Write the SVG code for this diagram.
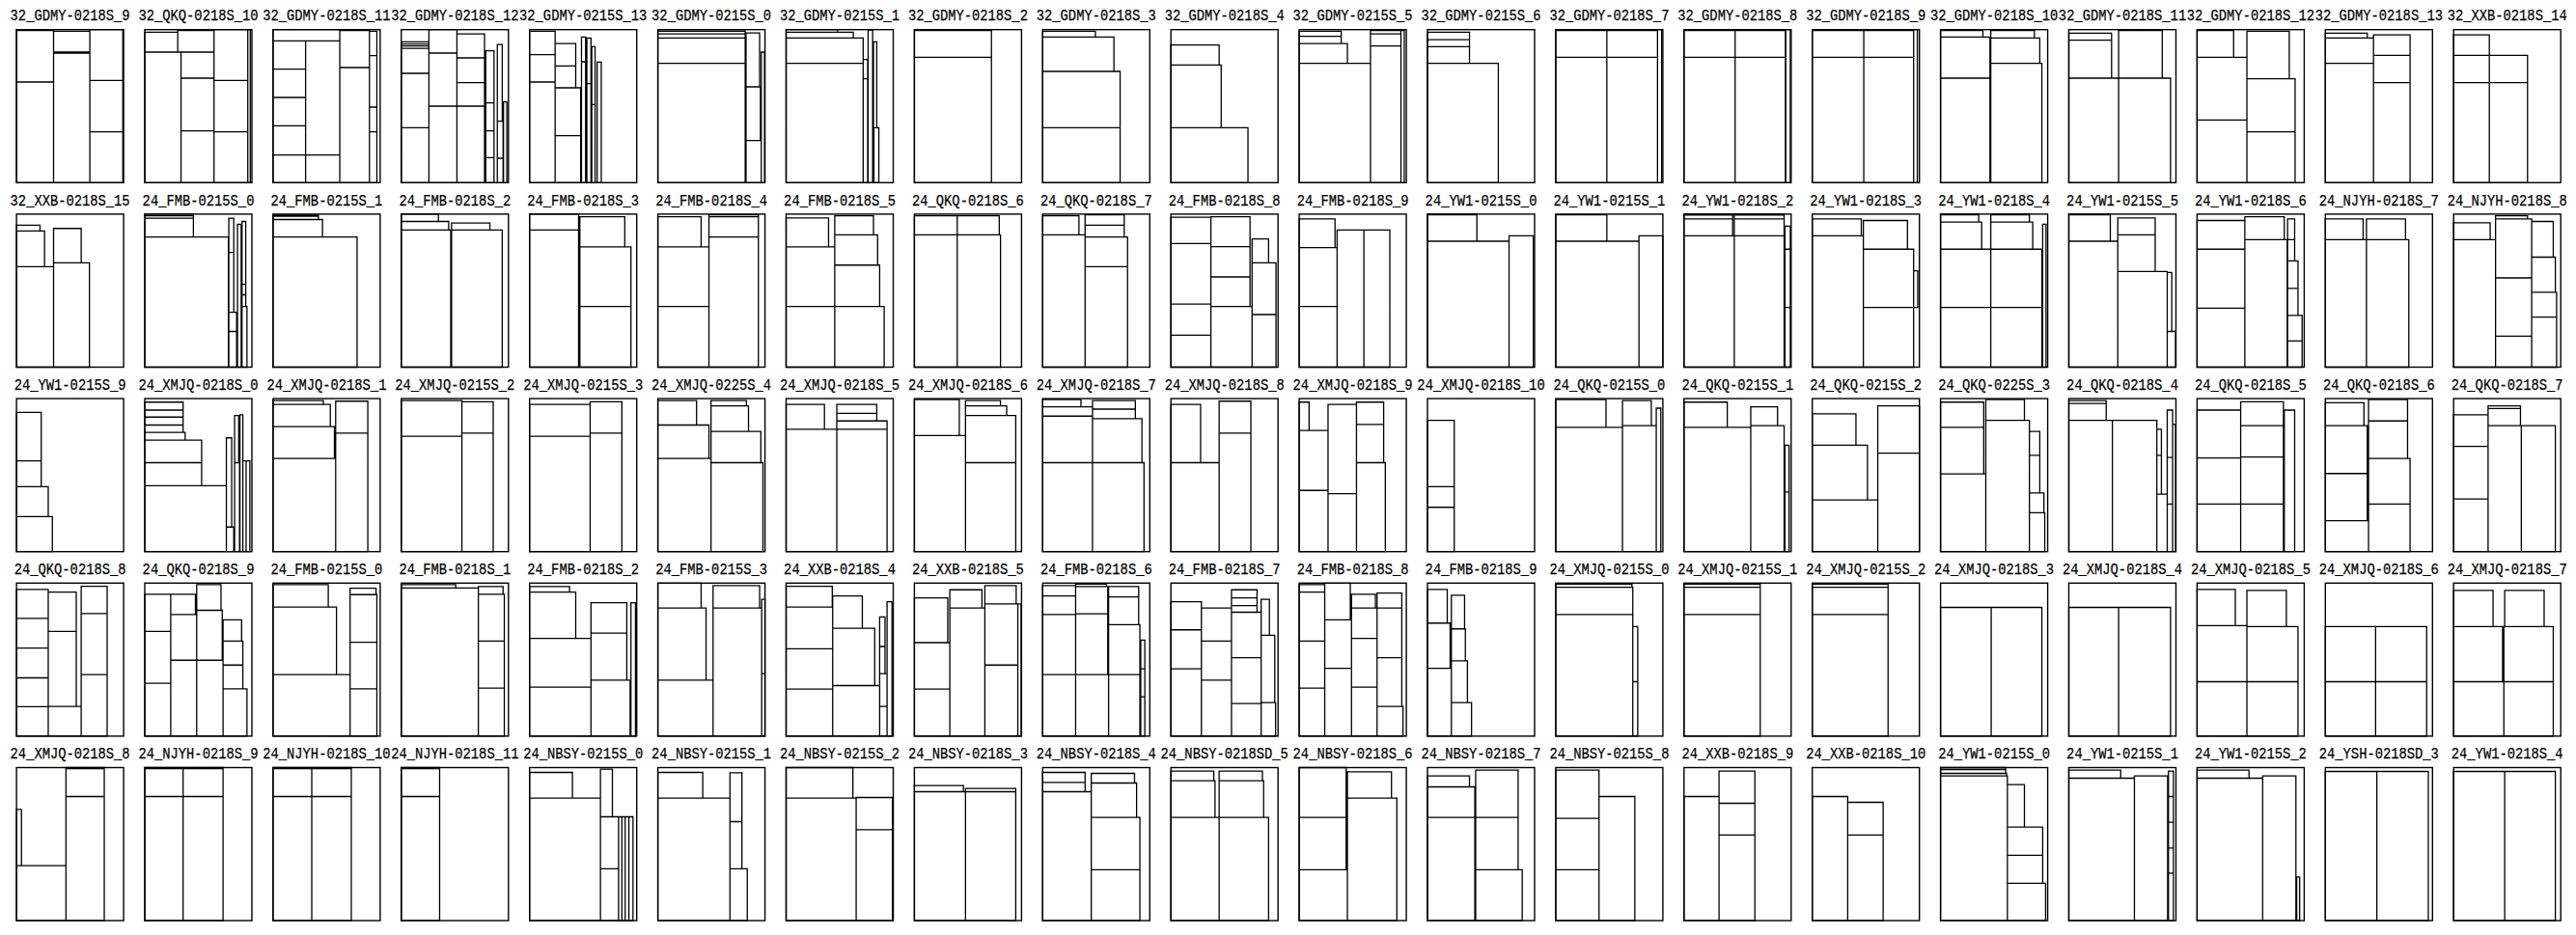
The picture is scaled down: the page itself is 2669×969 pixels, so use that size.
<svg xmlns="http://www.w3.org/2000/svg" width="2669" height="969" viewBox="0 0 2669 969">
<style>
text{font-family:"Liberation Mono","DejaVu Sans Mono",monospace;font-size:16.5px;text-anchor:middle;fill:#000;stroke:#000;stroke-width:0.25}
.b{fill:none;stroke:#000;stroke-width:1.4}
path{fill:none;stroke:#000;stroke-width:1.3;vector-effect:non-scaling-stroke}
</style>
<rect width="2669" height="969" fill="#fff"/>
<g id="row1">
<g id="p1" transform="translate(17.1 30.7)"><text x="55.5" y="-9.3" textLength="124" lengthAdjust="spacingAndGlyphs">32_GDMY-0218S_9</text><rect class="b" width="111" height="158.6"/><path transform="scale(.4269 .3332)" d="M0 0H90V3H0Z M0 3H90V163H0Z M0 163H90V476H0Z M90 5H178V70H90Z M90 73H178V476H90Z M178 0H258V158H178Z M178 158H258V318H178Z M178 318H258V476H178Z"/></g>
<g id="p2" transform="translate(150 30.7)"><text x="55.5" y="-9.3" textLength="124" lengthAdjust="spacingAndGlyphs">32_QKQ-0218S_10</text><rect class="b" width="111" height="158.6"/><path transform="scale(.4269 .3332)" d="M0 8H80V70H0Z M80 3H168V70H80Z M168 0H250V158H168Z M0 70H88V476H0Z M88 70H168V151H88Z M88 151H168V315H88Z M88 315H168V476H88Z M168 158H250V318H168Z M168 318H250V476H168Z M250 0H256V476H250Z"/></g>
<g id="p3" transform="translate(282.9 30.7)"><text x="55.5" y="-9.3" textLength="132.3" lengthAdjust="spacingAndGlyphs">32_GDMY-0218S_11</text><rect class="b" width="111" height="158.6"/><path transform="scale(.4269 .3332)" d="M0 0H162V35H0Z M0 35H79V123H0Z M0 123H79V211H0Z M0 211H79V299H0Z M0 299H79V390H0Z M0 390H79V476H0Z M79 35H162V390H79Z M79 390H162V476H79Z M162 3H234V118H162Z M162 118H234V476H162Z M234 5H252V81H234Z M234 81H252V241H234Z M234 241H252V318H234Z M234 318H252V476H234Z"/></g>
<g id="p4" transform="translate(415.8 30.7)"><text x="55.5" y="-9.3" textLength="132.3" lengthAdjust="spacingAndGlyphs">32_GDMY-0218S_12</text><rect class="b" width="111" height="158.6"/><path transform="scale(.4269 .3332)" d="M0 38H67V45H0Z M0 45H67V51H0Z M0 51H67V58H0Z M0 58H67V136H0Z M0 136H67V305H0Z M0 305H67V476H0Z M67 0H135V73H67Z M67 73H135V238H67Z M67 238H135V476H67Z M135 13H202V88H135Z M135 88H202V165H135Z M135 165H202V238H135Z M135 238H202V476H135Z M205 66H225V228H205Z M205 228H225V315H205Z M205 315H225V398H205Z M205 398H225V476H205Z M233 46H245V285H233Z M233 285H247V400H233Z M233 400H247V476H233Z M248 225H256V476H248Z"/></g>
<g id="p5" transform="translate(548.7 30.7)"><text x="55.5" y="-9.3" textLength="132.3" lengthAdjust="spacingAndGlyphs">32_GDMY-0215S_13</text><rect class="b" width="111" height="158.6"/><path transform="scale(.4269 .3332)" d="M0 5H62V78H0Z M0 78H62V163H0Z M0 163H62V476H0Z M62 43H112V113H62Z M62 113H112V181H62Z M62 181H124V330H62Z M62 330H124V476H62Z M126 23H136V100H126Z M126 100H136V476H126Z M139 26H149V168H139Z M139 168H149V476H139Z M151 53H159V233H151Z M151 233H159V476H151Z M164 101H174V476H164Z"/></g>
<g id="p6" transform="translate(681.6 30.7)"><text x="55.5" y="-9.3" textLength="124" lengthAdjust="spacingAndGlyphs">32_GDMY-0215S_0</text><rect class="b" width="111" height="158.6"/><path transform="scale(.4269 .3332)" d="M0 0H212V5H0Z M0 5H212V13H0Z M0 13H212V26H0Z M0 26H212V105H0Z M0 105H212V476H0Z M214 10H247V178H214Z M214 178H249V345H214Z M214 345H251V476H214Z M251 70H259V476H251Z"/></g>
<g id="p7" transform="translate(814.5 30.7)"><text x="55.5" y="-9.3" textLength="124" lengthAdjust="spacingAndGlyphs">32_GDMY-0215S_1</text><rect class="b" width="111" height="158.6"/><path transform="scale(.4269 .3332)" d="M0 0H125V8H0Z M0 8H163V26H0Z M0 26H187V105H0Z M0 105H187V476H0Z M187 93H198V153H187Z M187 153H198V476H187Z M199 1H210V476H199Z M212 38H220V305H212Z M213 305H225V476H213Z"/></g>
<g id="p8" transform="translate(947.4 30.7)"><text x="55.5" y="-9.3" textLength="124" lengthAdjust="spacingAndGlyphs">32_GDMY-0218S_2</text><rect class="b" width="111" height="158.6"/><path transform="scale(.4269 .3332)" d="M0 0H187V3H0Z M0 3H187V86H0Z M0 86H187V476H0Z"/></g>
<g id="p9" transform="translate(1080.3 30.7)"><text x="55.5" y="-9.3" textLength="124" lengthAdjust="spacingAndGlyphs">32_GDMY-0218S_3</text><rect class="b" width="111" height="158.6"/><path transform="scale(.4269 .3332)" d="M0 5H128V23H0Z M0 23H173V130H0Z M0 130H188V305H0Z M0 305H188V476H0Z"/></g>
<g id="p10" transform="translate(1213.2 30.7)"><text x="55.5" y="-9.3" textLength="124" lengthAdjust="spacingAndGlyphs">32_GDMY-0218S_4</text><rect class="b" width="111" height="158.6"/><path transform="scale(.4269 .3332)" d="M0 48H117V110H0Z M0 110H122V305H0Z M0 305H187V476H0Z"/></g>
<g id="p11" transform="translate(1346.1 30.7)"><text x="55.5" y="-9.3" textLength="124" lengthAdjust="spacingAndGlyphs">32_GDMY-0215S_5</text><rect class="b" width="111" height="158.6"/><path transform="scale(.4269 .3332)" d="M0 5H102V21H0Z M0 21H102V43H0Z M0 43H117V105H0Z M0 105H173V476H0Z M173 3H247V13H173Z M173 13H247V51H173Z M173 51H247V476H173Z M247 3H255V476H247Z"/></g>
<g id="p12" transform="translate(1479 30.7)"><text x="55.5" y="-9.3" textLength="124" lengthAdjust="spacingAndGlyphs">32_GDMY-0215S_6</text><rect class="b" width="111" height="158.6"/><path transform="scale(.4269 .3332)" d="M0 8H102V31H0Z M0 31H102V53H0Z M0 53H102V105H0Z M0 105H172V476H0Z"/></g>
<g id="p13" transform="translate(1611.9 30.7)"><text x="55.5" y="-9.3" textLength="124" lengthAdjust="spacingAndGlyphs">32_GDMY-0218S_7</text><rect class="b" width="111" height="158.6"/><path transform="scale(.4269 .3332)" d="M0 0H247V3H0Z M0 3H124V86H0Z M124 3H247V86H124Z M0 86H124V476H0Z M124 86H247V476H124Z M247 0H257V476H247Z"/></g>
<g id="p14" transform="translate(1744.8 30.7)"><text x="55.5" y="-9.3" textLength="124" lengthAdjust="spacingAndGlyphs">32_GDMY-0218S_8</text><rect class="b" width="111" height="158.6"/><path transform="scale(.4269 .3332)" d="M0 0H246V3H0Z M0 3H124V86H0Z M124 3H246V86H124Z M0 86H124V476H0Z M124 86H246V476H124Z M247 0H258V476H247Z"/></g>
<g id="p15" transform="translate(1877.7 30.7)"><text x="55.5" y="-9.3" textLength="124" lengthAdjust="spacingAndGlyphs">32_GDMY-0218S_9</text><rect class="b" width="111" height="158.6"/><path transform="scale(.4269 .3332)" d="M0 0H246V3H0Z M0 3H125V86H0Z M125 3H246V86H125Z M0 86H125V476H0Z M125 86H246V476H125Z M246 0H255V476H246Z"/></g>
<g id="p16" transform="translate(2010.6 30.7)"><text x="55.5" y="-9.3" textLength="132.3" lengthAdjust="spacingAndGlyphs">32_GDMY-0218S_10</text><rect class="b" width="111" height="158.6"/><path transform="scale(.4302 .3332)" d="M0 3H102V23H0Z M0 23H119V151H0Z M0 151H119V476H0Z M121 3H226V26H121Z M121 26H239V105H121Z M121 105H244V476H121Z"/></g>
<g id="p17" transform="translate(2143.5 30.7)"><text x="55.5" y="-9.3" textLength="132.3" lengthAdjust="spacingAndGlyphs">32_GDMY-0218S_11</text><rect class="b" width="111" height="158.6"/><path transform="scale(.4302 .3332)" d="M0 11H103V33H0Z M0 33H103V151H0Z M0 151H120V476H0Z M120 0H225V3H120Z M120 3H225V151H120Z M120 151H245V476H120Z"/></g>
<g id="p18" transform="translate(2276.4 30.7)"><text x="55.5" y="-9.3" textLength="132.3" lengthAdjust="spacingAndGlyphs">32_GDMY-0218S_12</text><rect class="b" width="111" height="158.6"/><path transform="scale(.4302 .3332)" d="M0 3H88V86H0Z M0 86H120V281H0Z M0 281H120V476H0Z M120 5H222V153H120Z M120 153H236V318H120Z M120 318H236V476H120Z"/></g>
<g id="p19" transform="translate(2409.3 30.7)"><text x="55.5" y="-9.3" textLength="132.3" lengthAdjust="spacingAndGlyphs">32_GDMY-0218S_13</text><rect class="b" width="111" height="158.6"/><path transform="scale(.4302 .3332)" d="M0 11H101V26H0Z M0 26H116V105H0Z M0 105H116V476H0Z M116 16H204V80H116Z M116 80H204V165H116Z M116 165H204V476H116Z"/></g>
<g id="p20" transform="translate(2542.2 30.7)"><text x="55.5" y="-9.3" textLength="124" lengthAdjust="spacingAndGlyphs">32_XXB-0218S_14</text><rect class="b" width="111" height="158.6"/><path transform="scale(.4302 .3332)" d="M0 16H86V80H0Z M0 80H86V165H0Z M0 165H86V476H0Z M86 80H178V165H86Z M86 165H178V476H86Z"/></g>
</g>
<g id="row2">
<g id="p21" transform="translate(17.1 221.9)"><text x="55.5" y="-9.3" textLength="124" lengthAdjust="spacingAndGlyphs">32_XXB-0218S_15</text><rect class="b" width="111" height="158.6"/><path transform="scale(.4269 .3304)" d="M0 35H57V53H0Z M0 53H68V165H0Z M0 165H90V480H0Z M90 45H157V153H90Z M90 153H177V480H90Z"/></g>
<g id="p22" transform="translate(150 221.9)"><text x="55.5" y="-9.3" textLength="115.8" lengthAdjust="spacingAndGlyphs">24_FMB-0215S_0</text><rect class="b" width="111" height="158.6"/><path transform="scale(.4269 .3304)" d="M0 0H118V5H0Z M0 5H118V13H0Z M0 13H118V72H0Z M0 72H203V480H0Z M204 13H216V120H204Z M204 120H216V308H204Z M204 308H223V368H204Z M204 368H223V480H204Z M225 32H234V480H225Z M236 23H245V220H236Z M236 220H245V253H236Z M236 253H245V290H236Z M236 290H248V480H236Z"/></g>
<g id="p23" transform="translate(282.9 221.9)"><text x="55.5" y="-9.3" textLength="115.8" lengthAdjust="spacingAndGlyphs">24_FMB-0215S_1</text><rect class="b" width="111" height="158.6"/><path transform="scale(.4269 .3304)" d="M0 3H110V7H0Z M0 7H110V17H0Z M0 17H120V72H0Z M0 72H204V480H0Z"/></g>
<g id="p24" transform="translate(415.8 221.9)"><text x="55.5" y="-9.3" textLength="115.8" lengthAdjust="spacingAndGlyphs">24_FMB-0218S_2</text><rect class="b" width="111" height="158.6"/><path transform="scale(.4269 .3304)" d="M0 0H90V23H0Z M0 23H115V50H0Z M122 28H215V50H122Z M0 50H120V480H0Z M122 50H245V480H122Z"/></g>
<g id="p25" transform="translate(548.7 221.9)"><text x="55.5" y="-9.3" textLength="115.8" lengthAdjust="spacingAndGlyphs">24_FMB-0218S_3</text><rect class="b" width="111" height="158.6"/><path transform="scale(.4269 .3304)" d="M0 0H119V50H0Z M0 50H119V480H0Z M122 8H231V103H122Z M122 103H246V290H122Z M122 290H246V480H122Z"/></g>
<g id="p26" transform="translate(681.6 221.9)"><text x="55.5" y="-9.3" textLength="115.8" lengthAdjust="spacingAndGlyphs">24_FMB-0218S_4</text><rect class="b" width="111" height="158.6"/><path transform="scale(.4269 .3304)" d="M0 8H105V103H0Z M0 103H124V290H0Z M0 290H124V480H0Z M124 2H244V8H124Z M124 8H244V72H124Z M124 72H244V480H124Z"/></g>
<g id="p27" transform="translate(814.5 221.9)"><text x="55.5" y="-9.3" textLength="115.8" lengthAdjust="spacingAndGlyphs">24_FMB-0218S_5</text><rect class="b" width="111" height="158.6"/><path transform="scale(.4269 .3304)" d="M0 12H103V103H0Z M0 103H118V290H0Z M0 290H118V480H0Z M118 5H212V65H118Z M118 65H222V160H118Z M118 160H227V290H118Z M118 290H238V480H118Z"/></g>
<g id="p28" transform="translate(947.4 221.9)"><text x="55.5" y="-9.3" textLength="115.8" lengthAdjust="spacingAndGlyphs">24_QKQ-0218S_6</text><rect class="b" width="111" height="158.6"/><path transform="scale(.4269 .3304)" d="M0 5H104V65H0Z M104 5H206V65H104Z M0 65H104V480H0Z M104 65H209V480H104Z"/></g>
<g id="p29" transform="translate(1080.3 221.9)"><text x="55.5" y="-9.3" textLength="115.8" lengthAdjust="spacingAndGlyphs">24_QKQ-0218S_7</text><rect class="b" width="111" height="158.6"/><path transform="scale(.4269 .3304)" d="M0 5H88V65H0Z M0 65H103V480H0Z M103 2H198V35H103Z M103 35H198V72H103Z M103 72H206V165H103Z M103 165H206V480H103Z"/></g>
<g id="p30" transform="translate(1213.2 221.9)"><text x="55.5" y="-9.3" textLength="115.8" lengthAdjust="spacingAndGlyphs">24_FMB-0218S_8</text><rect class="b" width="111" height="158.6"/><path transform="scale(.4269 .3304)" d="M0 10H97V92H0Z M0 92H97V282H0Z M0 282H97V380H0Z M0 380H97V480H0Z M97 8H192V102H97Z M97 102H192V197H97Z M97 197H192V290H97Z M97 290H197V480H97Z M197 78H237V153H197Z M197 153H255V315H197Z M197 315H255V480H197Z"/></g>
<g id="p31" transform="translate(1346.1 221.9)"><text x="55.5" y="-9.3" textLength="115.8" lengthAdjust="spacingAndGlyphs">24_FMB-0218S_9</text><rect class="b" width="111" height="158.6"/><path transform="scale(.4269 .3304)" d="M0 15H87V105H0Z M0 105H92V290H0Z M0 290H92V480H0Z M92 50H157V480H92Z M157 50H220V480H157Z"/></g>
<g id="p32" transform="translate(1479 221.9)"><text x="55.5" y="-9.3" textLength="115.8" lengthAdjust="spacingAndGlyphs">24_YW1-0215S_0</text><rect class="b" width="111" height="158.6"/><path transform="scale(.4269 .3304)" d="M0 0H120V2H0Z M0 2H120V85H0Z M0 85H198V480H0Z M198 68H257V480H198Z"/></g>
<g id="p33" transform="translate(1611.9 221.9)"><text x="55.5" y="-9.3" textLength="115.8" lengthAdjust="spacingAndGlyphs">24_YW1-0215S_1</text><rect class="b" width="111" height="158.6"/><path transform="scale(.4269 .3304)" d="M0 2H124V85H0Z M0 85H202V480H0Z M202 68H260V480H202Z"/></g>
<g id="p34" transform="translate(1744.8 221.9)"><text x="55.5" y="-9.3" textLength="115.8" lengthAdjust="spacingAndGlyphs">24_YW1-0218S_2</text><rect class="b" width="111" height="158.6"/><path transform="scale(.4269 .3304)" d="M0 0H118V3H0Z M0 3H118V15H0Z M0 15H118V68H0Z M122 0H243V3H122Z M122 3H243V15H122Z M122 15H243V68H122Z M0 68H122V480H0Z M122 68H243V480H122Z M245 38H258V110H245Z M245 110H258V293H245Z M245 293H258V480H245Z"/></g>
<g id="p35" transform="translate(1877.7 221.9)"><text x="55.5" y="-9.3" textLength="115.8" lengthAdjust="spacingAndGlyphs">24_YW1-0218S_3</text><rect class="b" width="111" height="158.6"/><path transform="scale(.4269 .3304)" d="M0 15H119V68H0Z M0 68H124V480H0Z M124 20H231V110H124Z M124 110H246V293H124Z M124 293H246V480H124Z M246 178H256V293H246Z"/></g>
<g id="p36" transform="translate(2010.6 221.9)"><text x="55.5" y="-9.3" textLength="115.8" lengthAdjust="spacingAndGlyphs">24_YW1-0218S_4</text><rect class="b" width="111" height="158.6"/><path transform="scale(.4302 .3304)" d="M0 0H92V2H0Z M0 2H92V25H0Z M0 25H99V110H0Z M0 110H121V293H0Z M0 293H121V480H0Z M121 0H214V2H121Z M121 2H214V25H121Z M121 25H222V110H121Z M121 110H244V293H121Z M121 293H244V480H121Z M246 32H254V480H246Z"/></g>
<g id="p37" transform="translate(2143.5 221.9)"><text x="55.5" y="-9.3" textLength="115.8" lengthAdjust="spacingAndGlyphs">24_YW1-0215S_5</text><rect class="b" width="111" height="158.6"/><path transform="scale(.4302 .3304)" d="M0 0H100V2H0Z M0 2H100V85H0Z M0 85H118V480H0Z M118 12H208V65H118Z M118 65H208V180H118Z M118 180H237V480H118Z M237 183H248V368H237Z M237 368H257V480H237Z"/></g>
<g id="p38" transform="translate(2276.4 221.9)"><text x="55.5" y="-9.3" textLength="115.8" lengthAdjust="spacingAndGlyphs">24_YW1-0218S_6</text><rect class="b" width="111" height="158.6"/><path transform="scale(.4302 .3304)" d="M0 20H115V110H0Z M0 110H115V295H0Z M0 295H115V480H0Z M115 8H210V80H115Z M115 80H217V480H115Z M218 15H235V80H218Z M218 80H235V147H218Z M218 147H243V233H218Z M218 233H243V318H218Z M218 318H253V398H218Z M218 398H253V480H218Z"/></g>
<g id="p39" transform="translate(2409.3 221.9)"><text x="55.5" y="-9.3" textLength="124" lengthAdjust="spacingAndGlyphs">24_NJYH-0218S_7</text><rect class="b" width="111" height="158.6"/><path transform="scale(.4302 .3304)" d="M0 15H91V80H0Z M99 15H193V80H99Z M0 80H99V480H0Z M99 80H201V480H99Z"/></g>
<g id="p40" transform="translate(2542.2 221.9)"><text x="55.5" y="-9.3" textLength="124" lengthAdjust="spacingAndGlyphs">24_NJYH-0218S_8</text><rect class="b" width="111" height="158.6"/><path transform="scale(.4302 .3304)" d="M0 27H88V80H0Z M0 80H101V480H0Z M101 5H178V15H101Z M101 15H188V200H101Z M101 200H188V383H101Z M101 383H188V480H101Z M188 23H240V135H188Z M188 135H245V245H188Z M188 245H248V323H188Z M188 323H248V480H188Z"/></g>
</g>
<g id="row3">
<g id="p41" transform="translate(17.1 413.1)"><text x="55.5" y="-9.3" textLength="115.8" lengthAdjust="spacingAndGlyphs">24_YW1-0215S_9</text><rect class="b" width="111" height="158.6"/><path transform="scale(.4269 .3304)" d="M0 43H60V195H0Z M0 195H60V276H0Z M0 276H77V370H0Z M0 370H87V480H0Z"/></g>
<g id="p42" transform="translate(150 413.1)"><text x="55.5" y="-9.3" textLength="124" lengthAdjust="spacingAndGlyphs">24_XMJQ-0218S_0</text><rect class="b" width="111" height="158.6"/><path transform="scale(.4269 .3304)" d="M0 11H93V36H0Z M0 36H93V58H0Z M0 58H93V83H0Z M0 83H93V106H0Z M0 106H98V130H0Z M0 130H138V201H0Z M0 201H138V273H0Z M0 273H198V480H0Z M198 123H211V403H198Z M198 403H216V480H198Z M218 53H228V201H218Z M218 201H230V480H218Z M231 51H238V480H231Z M238 195H246V480H238Z M246 195H255V480H246Z"/></g>
<g id="p43" transform="translate(282.9 413.1)"><text x="55.5" y="-9.3" textLength="124" lengthAdjust="spacingAndGlyphs">24_XMJQ-0218S_1</text><rect class="b" width="111" height="158.6"/><path transform="scale(.4269 .3304)" d="M0 6H122V18H0Z M0 18H139V88H0Z M0 88H149V188H0Z M0 188H152V480H0Z M152 8H230V108H152Z M152 108H230V480H152Z"/></g>
<g id="p44" transform="translate(415.8 413.1)"><text x="55.5" y="-9.3" textLength="124" lengthAdjust="spacingAndGlyphs">24_XMJQ-0215S_2</text><rect class="b" width="111" height="158.6"/><path transform="scale(.4269 .3304)" d="M0 6H147V118H0Z M0 118H147V480H0Z M147 10H223V108H147Z M147 108H223V480H147Z"/></g>
<g id="p45" transform="translate(548.7 413.1)"><text x="55.5" y="-9.3" textLength="124" lengthAdjust="spacingAndGlyphs">24_XMJQ-0215S_3</text><rect class="b" width="111" height="158.6"/><path transform="scale(.4269 .3304)" d="M0 18H147V118H0Z M0 118H147V480H0Z M147 10H224V108H147Z M147 108H224V480H147Z"/></g>
<g id="p46" transform="translate(681.6 413.1)"><text x="55.5" y="-9.3" textLength="124" lengthAdjust="spacingAndGlyphs">24_XMJQ-0225S_4</text><rect class="b" width="111" height="158.6"/><path transform="scale(.4269 .3304)" d="M0 6H94V83H0Z M0 83H124V188H0Z M0 188H129V480H0Z M129 6H215V23H129Z M129 23H220V103H129Z M129 103H250V201H129Z M129 201H255V480H129Z"/></g>
<g id="p47" transform="translate(814.5 413.1)"><text x="55.5" y="-9.3" textLength="124" lengthAdjust="spacingAndGlyphs">24_XMJQ-0218S_5</text><rect class="b" width="111" height="158.6"/><path transform="scale(.4269 .3304)" d="M0 18H93V96H0Z M0 96H123V480H0Z M123 18H220V46H123Z M123 46H220V70H123Z M123 70H245V96H123Z M123 96H245V480H123Z"/></g>
<g id="p48" transform="translate(947.4 413.1)"><text x="55.5" y="-9.3" textLength="124" lengthAdjust="spacingAndGlyphs">24_XMJQ-0218S_6</text><rect class="b" width="111" height="158.6"/><path transform="scale(.4269 .3304)" d="M0 3H109V116H0Z M0 116H124V480H0Z M124 6H209V23H124Z M124 23H224V53H124Z M124 53H246V201H124Z M124 201H246V480H124Z"/></g>
<g id="p49" transform="translate(1080.3 413.1)"><text x="55.5" y="-9.3" textLength="124" lengthAdjust="spacingAndGlyphs">24_XMJQ-0218S_7</text><rect class="b" width="111" height="158.6"/><path transform="scale(.4269 .3304)" d="M0 3H93V26H0Z M0 26H121V55H0Z M0 55H121V201H0Z M0 201H121V480H0Z M121 6H225V33H121Z M121 33H225V63H121Z M121 63H241V201H121Z M121 201H246V480H121Z"/></g>
<g id="p50" transform="translate(1213.2 413.1)"><text x="55.5" y="-9.3" textLength="124" lengthAdjust="spacingAndGlyphs">24_XMJQ-0218S_8</text><rect class="b" width="111" height="158.6"/><path transform="scale(.4269 .3304)" d="M0 18H72V201H0Z M0 201H117V480H0Z M117 8H194V108H117Z M117 108H194V480H117Z"/></g>
<g id="p51" transform="translate(1346.1 413.1)"><text x="55.5" y="-9.3" textLength="124" lengthAdjust="spacingAndGlyphs">24_XMJQ-0218S_9</text><rect class="b" width="111" height="158.6"/><path transform="scale(.4269 .3304)" d="M0 11H24V100H0Z M0 100H70V288H0Z M0 288H70V480H0Z M70 18H139V298H70Z M70 298H139V480H70Z M139 11H205V81H139Z M139 81H205V201H139Z M139 201H209V480H139Z"/></g>
<g id="p52" transform="translate(1479 413.1)"><text x="55.5" y="-9.3" textLength="132.3" lengthAdjust="spacingAndGlyphs">24_XMJQ-0218S_10</text><rect class="b" width="111" height="158.6"/><path transform="scale(.4269 .3304)" d="M0 68H65V276H0Z M0 276H65V341H0Z M0 341H65V480H0Z"/></g>
<g id="p53" transform="translate(1611.9 413.1)"><text x="55.5" y="-9.3" textLength="115.8" lengthAdjust="spacingAndGlyphs">24_QKQ-0215S_0</text><rect class="b" width="111" height="158.6"/><path transform="scale(.4269 .3304)" d="M0 3H122V90H0Z M0 90H162V480H0Z M162 6H232V85H162Z M162 85H244V480H162Z M244 30H255V480H244Z"/></g>
<g id="p54" transform="translate(1744.8 413.1)"><text x="55.5" y="-9.3" textLength="115.8" lengthAdjust="spacingAndGlyphs">24_QKQ-0215S_1</text><rect class="b" width="111" height="158.6"/><path transform="scale(.4269 .3304)" d="M0 11H105V90H0Z M0 90H162V480H0Z M162 26H227V85H162Z M162 85H243V480H162Z M245 146H255V293H245Z M245 293H255V480H245Z"/></g>
<g id="p55" transform="translate(1877.7 413.1)"><text x="55.5" y="-9.3" textLength="115.8" lengthAdjust="spacingAndGlyphs">24_QKQ-0215S_2</text><rect class="b" width="111" height="158.6"/><path transform="scale(.4269 .3304)" d="M0 48H106V146H0Z M0 146H134V318H0Z M0 318H159V480H0Z M159 23H260V171H159Z M159 171H260V480H159Z"/></g>
<g id="p56" transform="translate(2010.6 413.1)"><text x="55.5" y="-9.3" textLength="115.8" lengthAdjust="spacingAndGlyphs">24_QKQ-0225S_3</text><rect class="b" width="111" height="158.6"/><path transform="scale(.4302 .3304)" d="M0 11H104V90H0Z M0 90H104V236H0Z M0 236H109V480H0Z M109 3H202V68H109Z M109 68H214V480H109Z M214 103H239V178H214Z M214 178H239V296H214Z M214 296H249V358H214Z M214 358H251V480H214Z"/></g>
<g id="p57" transform="translate(2143.5 413.1)"><text x="55.5" y="-9.3" textLength="115.8" lengthAdjust="spacingAndGlyphs">24_QKQ-0218S_4</text><rect class="b" width="111" height="158.6"/><path transform="scale(.4302 .3304)" d="M0 6H90V15H0Z M0 15H90V68H0Z M0 68H105V480H0Z M105 68H212V480H105Z M212 96H223V178H212Z M212 178H223V300H212Z M212 300H237V480H212Z M237 36H250V185H237Z M237 185H250V331H237Z M237 331H250V480H237Z M250 81H257V480H250Z"/></g>
<g id="p58" transform="translate(2276.4 413.1)"><text x="55.5" y="-9.3" textLength="115.8" lengthAdjust="spacingAndGlyphs">24_QKQ-0218S_5</text><rect class="b" width="111" height="158.6"/><path transform="scale(.4302 .3304)" d="M0 36H105V186H0Z M0 186H105V331H0Z M0 331H105V480H0Z M105 10H208V85H105Z M105 85H208V183H105Z M105 183H208V331H105Z M105 331H208V480H105Z M210 36H235V480H210Z"/></g>
<g id="p59" transform="translate(2409.3 413.1)"><text x="55.5" y="-9.3" textLength="115.8" lengthAdjust="spacingAndGlyphs">24_QKQ-0218S_6</text><rect class="b" width="111" height="158.6"/><path transform="scale(.4302 .3304)" d="M0 13H93V85H0Z M0 85H101V235H0Z M0 235H101V383H0Z M0 383H104V480H0Z M104 3H198V70H104Z M104 70H198V188H104Z M104 188H204V331H104Z M104 331H204V480H104Z"/></g>
<g id="p60" transform="translate(2542.2 413.1)"><text x="55.5" y="-9.3" textLength="115.8" lengthAdjust="spacingAndGlyphs">24_QKQ-0218S_7</text><rect class="b" width="111" height="158.6"/><path transform="scale(.4302 .3304)" d="M0 51H83V150H0Z M0 150H83V315H0Z M0 315H83V480H0Z M83 23H161V31H83Z M83 31H161V85H83Z M83 85H163V480H83Z M163 85H245V480H163Z"/></g>
</g>
<g id="row4">
<g id="p61" transform="translate(17.1 604.3)"><text x="55.5" y="-9.3" textLength="115.8" lengthAdjust="spacingAndGlyphs">24_QKQ-0218S_8</text><rect class="b" width="111" height="158.6"/><path transform="scale(.4269 .3318)" d="M0 20H77V110H0Z M0 110H77V203H0Z M0 203H77V296H0Z M0 296H77V386H0Z M0 386H77V478H0Z M77 28H145V151H77Z M77 151H145V385H77Z M77 385H157V478H77Z M157 10H220V95H157Z M157 95H220V286H157Z M157 286H220V478H157Z"/></g>
<g id="p62" transform="translate(150 604.3)"><text x="55.5" y="-9.3" textLength="115.8" lengthAdjust="spacingAndGlyphs">24_QKQ-0218S_9</text><rect class="b" width="111" height="158.6"/><path transform="scale(.4269 .3318)" d="M0 35H63V151H0Z M0 151H63V313H0Z M0 313H63V478H0Z M63 35H123V98H63Z M63 98H126V241H63Z M63 241H126V478H63Z M126 5H185V85H126Z M126 85H188V241H126Z M126 241H190V478H126Z M190 115H235V181H190Z M190 181H238V256H190Z M190 256H238V330H190Z M190 330H248V478H190Z"/></g>
<g id="p63" transform="translate(282.9 604.3)"><text x="55.5" y="-9.3" textLength="115.8" lengthAdjust="spacingAndGlyphs">24_FMB-0215S_0</text><rect class="b" width="111" height="158.6"/><path transform="scale(.4269 .3318)" d="M0 5H134V75H0Z M0 75H154V286H0Z M0 286H187V478H0Z M187 16H250V36H187Z M187 36H252V185H187Z M187 185H252V330H187Z M187 330H252V478H187Z"/></g>
<g id="p64" transform="translate(415.8 604.3)"><text x="55.5" y="-9.3" textLength="115.8" lengthAdjust="spacingAndGlyphs">24_FMB-0218S_1</text><rect class="b" width="111" height="158.6"/><path transform="scale(.4269 .3318)" d="M0 5H132V15H0Z M0 15H187V478H0Z M187 11H247V35H187Z M187 35H250V181H187Z M187 181H250V328H187Z M187 328H250V478H187Z"/></g>
<g id="p65" transform="translate(548.7 604.3)"><text x="55.5" y="-9.3" textLength="115.8" lengthAdjust="spacingAndGlyphs">24_FMB-0218S_2</text><rect class="b" width="111" height="158.6"/><path transform="scale(.4269 .3318)" d="M0 11H97V28H0Z M0 28H112V173H0Z M0 173H149V325H0Z M0 325H149V478H0Z M149 61H236V156H149Z M149 156H236V303H149Z M149 303H244V478H149Z M246 61H257V478H246Z"/></g>
<g id="p66" transform="translate(681.6 604.3)"><text x="55.5" y="-9.3" textLength="115.8" lengthAdjust="spacingAndGlyphs">24_FMB-0215S_3</text><rect class="b" width="111" height="158.6"/><path transform="scale(.4269 .3318)" d="M0 0H105V78H0Z M0 78H117V303H0Z M0 303H134V478H0Z M134 8H247V78H134Z M134 78H252V478H134Z M252 51H260V283H252Z M252 283H260V478H252Z"/></g>
<g id="p67" transform="translate(814.5 604.3)"><text x="55.5" y="-9.3" textLength="115.8" lengthAdjust="spacingAndGlyphs">24_XXB-0218S_4</text><rect class="b" width="111" height="158.6"/><path transform="scale(.4269 .3318)" d="M0 10H112V75H0Z M0 75H113V205H0Z M0 205H113V331H0Z M0 331H113V478H0Z M113 40H185V141H113Z M113 141H215V320H113Z M113 320H227V478H113Z M227 106H240V198H227Z M227 198H240V283H227Z M227 283H245V385H227Z M227 385H245V478H227Z M245 58H257V478H245Z"/></g>
<g id="p68" transform="translate(947.4 604.3)"><text x="55.5" y="-9.3" textLength="115.8" lengthAdjust="spacingAndGlyphs">24_XXB-0218S_5</text><rect class="b" width="111" height="158.6"/><path transform="scale(.4269 .3318)" d="M0 46H81V186H0Z M0 186H86V331H0Z M0 331H86V478H0Z M86 21H164V78H86Z M86 78H171V478H86Z M171 8H247V65H171Z M171 65H251V256H171Z M171 256H251V478H171Z M251 65H259V478H251Z"/></g>
<g id="p69" transform="translate(1080.3 604.3)"><text x="55.5" y="-9.3" textLength="115.8" lengthAdjust="spacingAndGlyphs">24_FMB-0218S_6</text><rect class="b" width="111" height="158.6"/><path transform="scale(.4269 .3318)" d="M0 8H80V40H0Z M0 40H80V98H0Z M0 98H80V286H0Z M0 286H80V478H0Z M80 3H155V11H80Z M80 11H158V96H80Z M80 96H158V286H80Z M80 286H160V478H80Z M160 11H233V43H160Z M160 43H233V130H160Z M160 130H236V286H160Z M160 286H236V478H160Z M238 178H248V268H238Z M238 268H248V355H238Z M238 355H248V478H238Z"/></g>
<g id="p70" transform="translate(1213.2 604.3)"><text x="55.5" y="-9.3" textLength="115.8" lengthAdjust="spacingAndGlyphs">24_FMB-0218S_7</text><rect class="b" width="111" height="158.6"/><path transform="scale(.4269 .3318)" d="M0 58H74V146H0Z M0 146H74V268H0Z M0 268H74V478H0Z M74 78H147V181H74Z M74 181H147V303H74Z M74 303H147V478H74Z M147 21H209V46H147Z M147 46H209V70H147Z M147 70H209V91H147Z M147 91H219V233H147Z M147 233H219V376H147Z M147 376H219V478H147Z M219 51H239V163H219Z M219 163H252V373H219Z M219 373H254V478H219Z"/></g>
<g id="p71" transform="translate(1346.1 604.3)"><text x="55.5" y="-9.3" textLength="115.8" lengthAdjust="spacingAndGlyphs">24_FMB-0218S_8</text><rect class="b" width="111" height="158.6"/><path transform="scale(.4269 .3318)" d="M0 5H62V28H0Z M0 28H62V181H0Z M0 181H62V328H0Z M0 328H62V478H0Z M62 0H124V115H62Z M62 115H127V266H62Z M62 266H127V478H62Z M127 35H185V78H127Z M127 78H189V173H127Z M127 173H189V325H127Z M127 325H189V478H127Z M189 31H249V78H189Z M189 78H249V233H189Z M189 233H249V385H189Z M189 385H252V478H189Z"/></g>
<g id="p72" transform="translate(1479 604.3)"><text x="55.5" y="-9.3" textLength="115.8" lengthAdjust="spacingAndGlyphs">24_FMB-0218S_9</text><rect class="b" width="111" height="158.6"/><path transform="scale(.4269 .3318)" d="M0 20H48V125H0Z M0 125H55V266H0Z M0 266H58V478H0Z M58 38H90V143H58Z M58 143H92V243H58Z M58 243H97V373H58Z M58 373H107V478H58Z"/></g>
<g id="p73" transform="translate(1611.9 604.3)"><text x="55.5" y="-9.3" textLength="124" lengthAdjust="spacingAndGlyphs">24_XMJQ-0215S_0</text><rect class="b" width="111" height="158.6"/><path transform="scale(.4269 .3318)" d="M0 3H185V13H0Z M0 13H187V98H0Z M0 98H187V478H0Z M187 136H199V308H187Z M187 308H199V478H187Z"/></g>
<g id="p74" transform="translate(1744.8 604.3)"><text x="55.5" y="-9.3" textLength="124" lengthAdjust="spacingAndGlyphs">24_XMJQ-0215S_1</text><rect class="b" width="111" height="158.6"/><path transform="scale(.4269 .3318)" d="M0 3H185V13H0Z M0 13H185V98H0Z M0 98H185V478H0Z"/></g>
<g id="p75" transform="translate(1877.7 604.3)"><text x="55.5" y="-9.3" textLength="124" lengthAdjust="spacingAndGlyphs">24_XMJQ-0215S_2</text><rect class="b" width="111" height="158.6"/><path transform="scale(.4269 .3318)" d="M0 3H184V13H0Z M0 13H184V98H0Z M0 98H184V478H0Z"/></g>
<g id="p76" transform="translate(2010.6 604.3)"><text x="55.5" y="-9.3" textLength="124" lengthAdjust="spacingAndGlyphs">24_XMJQ-0218S_3</text><rect class="b" width="111" height="158.6"/><path transform="scale(.4302 .3318)" d="M0 76H122V478H0Z M122 76H244V478H122Z"/></g>
<g id="p77" transform="translate(2143.5 604.3)"><text x="55.5" y="-9.3" textLength="124" lengthAdjust="spacingAndGlyphs">24_XMJQ-0218S_4</text><rect class="b" width="111" height="158.6"/><path transform="scale(.4302 .3318)" d="M0 76H120V478H0Z M120 76H245V478H120Z"/></g>
<g id="p78" transform="translate(2276.4 604.3)"><text x="55.5" y="-9.3" textLength="124" lengthAdjust="spacingAndGlyphs">24_XMJQ-0218S_5</text><rect class="b" width="111" height="158.6"/><path transform="scale(.4302 .3318)" d="M0 20H92V133H0Z M0 133H120V308H0Z M0 308H120V478H0Z M120 23H215V136H120Z M120 136H243V308H120Z M120 308H243V478H120Z"/></g>
<g id="p79" transform="translate(2409.3 604.3)"><text x="55.5" y="-9.3" textLength="124" lengthAdjust="spacingAndGlyphs">24_XMJQ-0218S_6</text><rect class="b" width="111" height="158.6"/><path transform="scale(.4302 .3318)" d="M0 136H121V308H0Z M0 308H121V478H0Z M121 136H244V308H121Z M121 308H244V478H121Z"/></g>
<g id="p80" transform="translate(2542.2 604.3)"><text x="55.5" y="-9.3" textLength="124" lengthAdjust="spacingAndGlyphs">24_XMJQ-0218S_7</text><rect class="b" width="111" height="158.6"/><path transform="scale(.4302 .3318)" d="M0 23H95V136H0Z M0 136H118V308H0Z M0 308H121V478H0Z M123 23H218V136H123Z M121 136H240V308H121Z M121 308H240V478H121Z"/></g>
</g>
<g id="row5">
<g id="p81" transform="translate(17.1 795.5)"><text x="55.5" y="-9.3" textLength="124" lengthAdjust="spacingAndGlyphs">24_XMJQ-0218S_8</text><rect class="b" width="111" height="158.6"/><path transform="scale(.4269 .3332)" d="M0 130H12V305H0Z M0 305H120V476H0Z M120 0H213V3H120Z M120 3H213V90H120Z M120 90H213V476H120Z"/></g>
<g id="p82" transform="translate(150 795.5)"><text x="55.5" y="-9.3" textLength="124" lengthAdjust="spacingAndGlyphs">24_NJYH-0218S_9</text><rect class="b" width="111" height="158.6"/><path transform="scale(.4269 .3332)" d="M0 0H190V3H0Z M0 3H93V90H0Z M93 3H190V90H93Z M0 90H93V476H0Z M93 90H190V476H93Z"/></g>
<g id="p83" transform="translate(282.9 795.5)"><text x="55.5" y="-9.3" textLength="132.3" lengthAdjust="spacingAndGlyphs">24_NJYH-0218S_10</text><rect class="b" width="111" height="158.6"/><path transform="scale(.4269 .3332)" d="M0 0H190V3H0Z M0 3H94V90H0Z M94 3H190V90H94Z M0 90H94V476H0Z M94 90H190V476H94Z"/></g>
<g id="p84" transform="translate(415.8 795.5)"><text x="55.5" y="-9.3" textLength="132.3" lengthAdjust="spacingAndGlyphs">24_NJYH-0218S_11</text><rect class="b" width="111" height="158.6"/><path transform="scale(.4269 .3332)" d="M0 0H93V3H0Z M0 3H93V90H0Z M0 90H93V476H0Z"/></g>
<g id="p85" transform="translate(548.7 795.5)"><text x="55.5" y="-9.3" textLength="124" lengthAdjust="spacingAndGlyphs">24_NBSY-0215S_0</text><rect class="b" width="111" height="158.6"/><path transform="scale(.4269 .3332)" d="M0 15H104V95H0Z M0 95H172V476H0Z M172 5H201V153H172Z M172 153H216V315H172Z M172 315H216V476H172Z M216 153H224V476H216Z M224 153H232V476H224Z M232 153H241V476H232Z M241 153H251V476H241Z"/></g>
<g id="p86" transform="translate(681.6 795.5)"><text x="55.5" y="-9.3" textLength="124" lengthAdjust="spacingAndGlyphs">24_NBSY-0215S_1</text><rect class="b" width="111" height="158.6"/><path transform="scale(.4269 .3332)" d="M0 15H109V95H0Z M0 95H175V476H0Z M175 16H204V168H175Z M175 168H204V315H175Z M175 315H217V476H175Z"/></g>
<g id="p87" transform="translate(814.5 795.5)"><text x="55.5" y="-9.3" textLength="124" lengthAdjust="spacingAndGlyphs">24_NBSY-0215S_2</text><rect class="b" width="111" height="158.6"/><path transform="scale(.4269 .3332)" d="M0 0H162V95H0Z M0 95H170V476H0Z M170 93H258V193H170Z M170 193H258V476H170Z"/></g>
<g id="p88" transform="translate(947.4 795.5)"><text x="55.5" y="-9.3" textLength="124" lengthAdjust="spacingAndGlyphs">24_NBSY-0218S_3</text><rect class="b" width="111" height="158.6"/><path transform="scale(.4269 .3332)" d="M0 56H119V75H0Z M0 75H124V476H0Z M124 65H246V75H124Z M124 75H246V476H124Z"/></g>
<g id="p89" transform="translate(1080.3 795.5)"><text x="55.5" y="-9.3" textLength="124" lengthAdjust="spacingAndGlyphs">24_NBSY-0218S_4</text><rect class="b" width="111" height="158.6"/><path transform="scale(.4269 .3332)" d="M0 15H103V46H0Z M0 46H103V75H0Z M0 75H118V476H0Z M118 18H223V48H118Z M118 48H228V155H118Z M118 155H236V318H118Z M118 318H236V476H118Z"/></g>
<g id="p90" transform="translate(1213.2 795.5)"><text x="55.5" y="-9.3" textLength="132.3" lengthAdjust="spacingAndGlyphs">24_NBSY-0218SD_5</text><rect class="b" width="111" height="158.6"/><path transform="scale(.4269 .3332)" d="M0 11H104V41H0Z M0 41H107V155H0Z M0 155H117V476H0Z M117 11H222V41H117Z M117 41H225V155H117Z M117 155H237V476H117Z"/></g>
<g id="p91" transform="translate(1346.1 795.5)"><text x="55.5" y="-9.3" textLength="124" lengthAdjust="spacingAndGlyphs">24_NBSY-0218S_6</text><rect class="b" width="111" height="158.6"/><path transform="scale(.4269 .3332)" d="M0 0H114V155H0Z M0 155H114V318H0Z M0 318H117V476H0Z M117 13H224V95H117Z M117 95H237V476H117Z"/></g>
<g id="p92" transform="translate(1479 795.5)"><text x="55.5" y="-9.3" textLength="124" lengthAdjust="spacingAndGlyphs">24_NBSY-0218S_7</text><rect class="b" width="111" height="158.6"/><path transform="scale(.4269 .3332)" d="M0 26H102V60H0Z M0 60H115V155H0Z M0 155H115V476H0Z M117 8H220V155H117Z M117 155H220V318H117Z M117 318H230V476H117Z"/></g>
<g id="p93" transform="translate(1611.9 795.5)"><text x="55.5" y="-9.3" textLength="124" lengthAdjust="spacingAndGlyphs">24_NBSY-0215S_8</text><rect class="b" width="111" height="158.6"/><path transform="scale(.4269 .3332)" d="M0 8H105V158H0Z M0 158H105V318H0Z M0 318H105V476H0Z M105 90H192V476H105Z"/></g>
<g id="p94" transform="translate(1744.8 795.5)"><text x="55.5" y="-9.3" textLength="115.8" lengthAdjust="spacingAndGlyphs">24_XXB-0218S_9</text><rect class="b" width="111" height="158.6"/><path transform="scale(.4269 .3332)" d="M0 90H85V476H0Z M85 11H172V111H85Z M85 111H172V210H85Z M85 210H172V476H85Z"/></g>
<g id="p95" transform="translate(1877.7 795.5)"><text x="55.5" y="-9.3" textLength="124" lengthAdjust="spacingAndGlyphs">24_XXB-0218S_10</text><rect class="b" width="111" height="158.6"/><path transform="scale(.4269 .3332)" d="M0 90H86V476H0Z M86 108H172V210H86Z M86 210H172V476H86Z"/></g>
<g id="p96" transform="translate(2010.6 795.5)"><text x="55.5" y="-9.3" textLength="115.8" lengthAdjust="spacingAndGlyphs">24_YW1-0215S_0</text><rect class="b" width="111" height="158.6"/><path transform="scale(.4302 .3332)" d="M0 0H157V6H0Z M0 6H157V18H0Z M0 18H159V26H0Z M0 26H161V476H0Z M161 53H202V185H161Z M161 185H246V273H161Z M161 273H246V360H161Z M161 360H253V476H161Z"/></g>
<g id="p97" transform="translate(2143.5 795.5)"><text x="55.5" y="-9.3" textLength="115.8" lengthAdjust="spacingAndGlyphs">24_YW1-0215S_1</text><rect class="b" width="111" height="158.6"/><path transform="scale(.4302 .3332)" d="M0 8H125V33H0Z M0 33H158V476H0Z M158 26H238V476H158Z M240 11H252V90H240Z M240 90H252V170H240Z M240 170H252V250H240Z M240 250H252V328H240Z M240 328H252V476H240Z"/></g>
<g id="p98" transform="translate(2276.4 795.5)"><text x="55.5" y="-9.3" textLength="115.8" lengthAdjust="spacingAndGlyphs">24_YW1-0215S_2</text><rect class="b" width="111" height="158.6"/><path transform="scale(.4302 .3332)" d="M0 8H125V33H0Z M0 33H158V476H0Z M158 26H238V476H158Z M240 340H247V476H240Z"/></g>
<g id="p99" transform="translate(2409.3 795.5)"><text x="55.5" y="-9.3" textLength="124" lengthAdjust="spacingAndGlyphs">24_YSH-0218SD_3</text><rect class="b" width="111" height="158.6"/><path transform="scale(.4302 .3332)" d="M0 12H124V476H0Z M124 12H248V476H124Z"/></g>
<g id="p100" transform="translate(2542.2 795.5)"><text x="55.5" y="-9.3" textLength="115.8" lengthAdjust="spacingAndGlyphs">24_YW1-0218S_4</text><rect class="b" width="111" height="158.6"/><path transform="scale(.4302 .3332)" d="M0 12H123V476H0Z M123 12H245V476H123Z"/></g>
</g>
</svg>
